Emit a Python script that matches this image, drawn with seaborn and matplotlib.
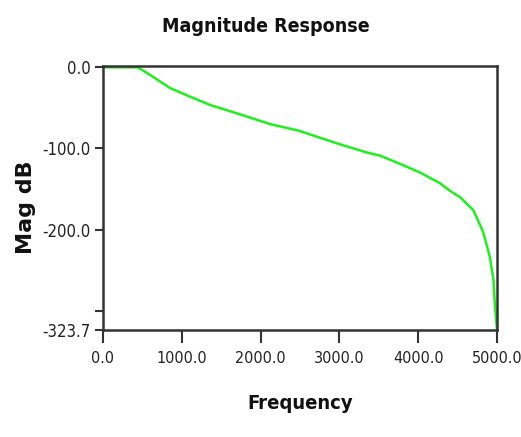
import matplotlib
matplotlib.use("Agg")
import matplotlib.pyplot as plt
import seaborn as sns
import pandas as pd

# Magnitude response of the low-pass filter (frequency in Hz, magnitude in dB)
freq = [0, 440, 600, 850, 1100, 1360, 1740, 2120, 2480, 3010, 3350, 3520,
        3770, 4020, 4280, 4400, 4530, 4700, 4825, 4910, 4955, 4975, 5000]
mag_db = [0, 0, -9.5, -25.5, -36, -46.5, -58, -70, -78, -95, -105, -109,
          -119, -129.5, -143, -152, -160, -176, -203, -234, -262, -295, -323.7]

x_ticks = [0, 1000, 2000, 3000, 4000, 5000]
x_tick_labels = ["0.0", "1000.0", "2000.0", "3000.0", "4000.0", "5000.0"]
y_ticks = [0, -100, -200, -300, -323.7]
y_tick_labels = ["0.0", "-100.0", "-200.0", "", "-323.7"]

sns.set_style("ticks")
plt.rcParams["font.family"] = ["DejaVu Sans"]
plt.rcParams["font.stretch"] = "condensed"

df = pd.DataFrame({"Frequency": freq, "Mag dB": mag_db})

fig = plt.figure(figsize=(5.21, 4.37), dpi=100)
ax = fig.add_axes([103 / 521, 1 - 330 / 437, 394 / 521, 264 / 437])

sns.lineplot(data=df, x="Frequency", y="Mag dB", ax=ax,
             color="#1ef01e", linewidth=1.8)

ax.set_xlim(0, 5000)
ax.set_ylim(-323.7, 1.6)
ax.set_xticks(x_ticks)
ax.set_xticklabels(x_tick_labels)
ax.set_yticks(y_ticks)
ax.set_yticklabels(y_tick_labels)

for side in ["left", "right", "top", "bottom"]:
    ax.spines[side].set_visible(True)
    ax.spines[side].set_color("#333333")
    ax.spines[side].set_linewidth(1.8)

ax.tick_params(axis="x", direction="out", length=9, width=1.5,
               color="#333333", labelsize=11.5, labelcolor="#222222", pad=6)
ax.tick_params(axis="y", direction="out", length=6, width=1.5,
               color="#333333", labelsize=12, labelcolor="#222222", pad=3)

ax.set_xlabel("Frequency", fontsize=14.5, fontweight="bold",
              color="#111111", labelpad=20)
ax.set_ylabel("Mag dB", fontsize=16, fontweight="bold",
              color="#111111", fontstretch="normal")
ax.yaxis.set_label_coords(-0.17, 0.466)
fig.text(266 / 521, 1 - 27 / 437, "Magnitude Response", ha="center",
         va="center", fontsize=14, fontweight="bold", color="#111111")

fig.savefig("out.png", dpi=100)
